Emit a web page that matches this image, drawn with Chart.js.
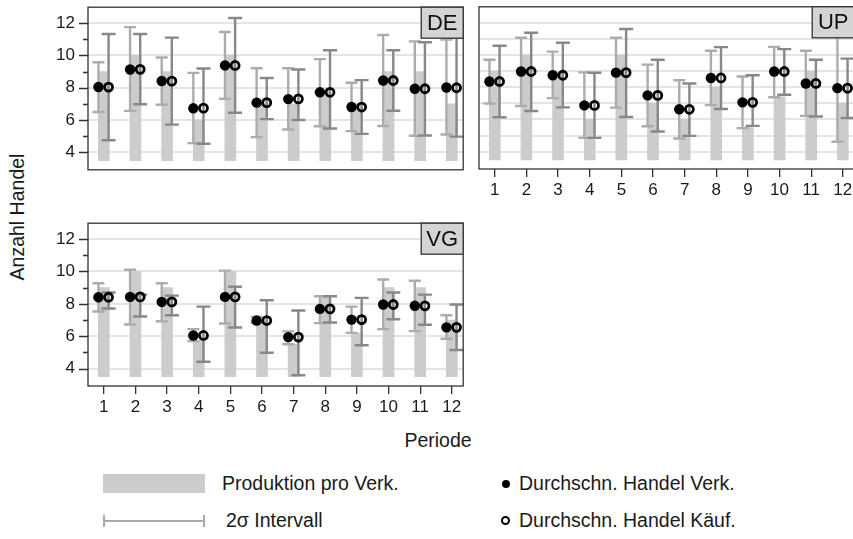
<!DOCTYPE html>
<html>
<head>
<meta charset="utf-8">
<script src="https://cdn.jsdelivr.net/npm/chart.js@4.4.1/dist/chart.umd.min.js"></script>
<style>
  body { margin: 0; width: 853px; height: 539px; overflow: hidden; background: #fff;
         font-family: "Liberation Sans", Arial, sans-serif; color: #1a1a1a; position: relative; }
  canvas { position: absolute; }
  .txt { position: absolute; white-space: nowrap; font-size: 19.5px; line-height: 1; }
  .box { position: absolute; }
</style>
</head>
<body>
<canvas id="de" width="440" height="200"></canvas>
<canvas id="up" width="400" height="220"></canvas>
<canvas id="vg" width="440" height="220"></canvas>

<div class="txt" style="left:18px;top:217px;transform:translate(-50%,-50%) rotate(-90deg)">Anzahl Handel</div>
<div class="txt" style="left:438px;top:441px;transform:translate(-50%,-50%)">Periode</div>

<!-- legend -->
<div class="box" style="left:103px;top:474px;width:102px;height:19px;background:#cccccc"></div>
<div class="txt" style="left:222px;top:484px;transform:translateY(-50%)">Produktion pro Verk.</div>
<div class="box" style="left:103px;top:520px;width:102px;height:2px;background:#aaaaaa"></div>
<div class="box" style="left:103px;top:515px;width:2px;height:12px;background:#aaaaaa"></div>
<div class="box" style="left:203px;top:515px;width:2px;height:12px;background:#aaaaaa"></div>
<div class="txt" style="left:226px;top:521px;transform:translateY(-50%)">2σ Intervall</div>
<div class="box" style="left:502px;top:480px;width:8px;height:8px;border-radius:50%;background:#000"></div>
<div class="txt" style="left:519px;top:484px;transform:translateY(-50%)">Durchschn. Handel Verk.</div>
<div class="box" style="left:501px;top:516px;width:5px;height:5px;border-radius:50%;border:2.5px solid #000"></div>
<div class="txt" style="left:519px;top:521px;transform:translateY(-50%)">Durchschn. Handel Käuf.</div>

<script>
// periods and axis ticks
const periods = [1, 2, 3, 4, 5, 6, 7, 8, 9, 10, 11, 12];
const periodLabels = ['1', '2', '3', '4', '5', '6', '7', '8', '9', '10', '11', '12'];
const yTicks = [4, 5, 6, 7, 8, 9, 10, 11, 12];
const yLabels = ['4', '', '6', '', '8', '', '10', '', '12'];
const barBase = 3.5;

// DE
const deProd = [9, 10, 9, 6, 10, 7, 7, 8, 7, 9, 9, 7];
const deSellMean = [8.05, 9.13, 8.42, 6.73, 9.38, 7.08, 7.3, 7.72, 6.81, 8.45, 7.94, 8.02];
const deBuyMean = [8.04, 9.14, 8.41, 6.74, 9.38, 7.08, 7.31, 7.72, 6.81, 8.45, 7.94, 8.0];
const deSellLo = [6.5, 6.57, 6.95, 4.58, 7.32, 4.95, 5.42, 5.62, 5.32, 5.64, 5.03, 5.11];
const deSellHi = [9.58, 11.75, 9.87, 8.92, 11.45, 9.21, 9.21, 9.77, 8.31, 11.26, 10.87, 10.98];
const deBuyLo = [4.76, 6.98, 5.72, 4.54, 6.46, 6.06, 6.01, 5.48, 5.15, 6.58, 5.05, 4.98];
const deBuyHi = [11.32, 11.32, 11.1, 9.19, 12.31, 8.6, 9.13, 10.32, 8.47, 10.32, 10.81, 11.1];

// UP
const upProd = [9, 10, 9, 6, 10, 7, 6, 8, 5.5, 7.4, 9, 7];
const upSellMean = [8.35, 8.97, 8.74, 6.87, 8.9, 7.49, 6.63, 8.57, 7.06, 8.97, 8.23, 7.94];
const upBuyMean = [8.35, 8.97, 8.74, 6.87, 8.9, 7.49, 6.63, 8.57, 7.06, 8.97, 8.23, 7.94];
const upSellLo = [6.98, 6.83, 7.32, 4.86, 6.73, 5.58, 4.82, 6.89, 5.46, 7.38, 6.22, 4.62];
const upSellHi = [9.7, 11.06, 10.2, 8.92, 11.06, 9.4, 8.43, 10.26, 8.66, 10.5, 10.26, 11.26];
const upBuyLo = [6.14, 6.52, 6.75, 4.86, 6.15, 5.25, 4.98, 6.65, 5.6, 7.53, 6.18, 6.09];
const upBuyHi = [10.57, 11.37, 10.75, 8.89, 11.6, 9.7, 8.23, 10.48, 8.74, 10.36, 9.7, 9.77];

// VG
const vgProd = [9, 10, 9, 5.75, 10, 7, 5.5, 8.5, 6.2, 9, 9, 7];
const vgSellMean = [8.41, 8.43, 8.12, 6.05, 8.43, 6.97, 5.95, 7.69, 7.03, 7.96, 7.88, 6.55];
const vgBuyMean = [8.41, 8.43, 8.12, 6.05, 8.43, 6.97, 5.95, 7.69, 7.03, 7.96, 7.88, 6.55];
const vgSellLo = [7.53, 6.73, 6.93, 5.7, 6.79, 6.83, 5.51, 6.81, 6.21, 6.44, 6.32, 5.85];
const vgSellHi = [9.27, 10.11, 9.27, 6.44, 10.05, 7.2, 6.3, 8.47, 7.83, 9.5, 9.43, 7.3];
const vgBuyLo = [7.71, 7.22, 7.3, 4.43, 6.54, 4.98, 3.59, 6.85, 5.45, 7.05, 6.71, 5.15];
const vgBuyHi = [8.7, 8.57, 8.51, 7.83, 9.06, 8.22, 7.59, 8.47, 8.37, 8.7, 8.57, 7.96];

const FONT = '"Liberation Sans", Arial, sans-serif';
const SELL_OFF = -0.17;
const BUY_OFF = 0.15;

// error bars, drawn right after the production bars
const errorBars = {
    id: 'errorBars',
    afterDatasetDraw(chart, args, opts) {
        if (args.meta.type !== 'bar') return;
        const { ctx, scales: { x, y } } = chart;
        ctx.save();
        opts.series.forEach(s => {
            ctx.strokeStyle = s.color;
            ctx.lineWidth = 2.4;
            periods.forEach((p, i) => {
                const px = x.getPixelForValue(p + s.offset);
                const lo = y.getPixelForValue(s.lo[i]);
                const hi = y.getPixelForValue(s.hi[i]);
                ctx.beginPath();
                ctx.moveTo(px, lo); ctx.lineTo(px, hi);
                ctx.moveTo(px - s.cap, lo); ctx.lineTo(px + s.cap, lo);
                ctx.moveTo(px - s.cap, hi); ctx.lineTo(px + s.cap, hi);
                ctx.stroke();
            });
        });
        ctx.restore();
    }
};

// panel frame, y tick marks and the name box in the corner
const panelFrame = {
    id: 'panelFrame',
    afterDraw(chart, args, opts) {
        const { ctx, chartArea: a, scales: { y } } = chart;
        ctx.save();
        ctx.strokeStyle = '#333';
        ctx.lineWidth = 1.3;
        ctx.strokeRect(a.left, a.top, a.right - a.left, a.bottom - a.top);
        if (opts.yTicks) {
            ctx.beginPath();
            yTicks.forEach(v => {
                const py = Math.round(y.getPixelForValue(v)) + 0.5;
                const len = v % 2 === 0 ? 9 : 5;
                ctx.moveTo(a.left - len, py); ctx.lineTo(a.left, py);
            });
            ctx.stroke();
        }
        const w = 42, h = 31;
        ctx.fillStyle = '#d4d4d4';
        ctx.fillRect(a.right - w, a.top, w, h);
        ctx.strokeRect(a.right - w, a.top, w, h);
        ctx.fillStyle = '#111';
        ctx.font = '22px ' + FONT;
        ctx.textAlign = 'center';
        ctx.textBaseline = 'middle';
        ctx.fillText(opts.name, a.right - w / 2, a.top + h / 2 + 1);
        ctx.restore();
    }
};

function panelConfig(name, prod, sellMean, buyMean, sellLo, sellHi, buyLo, buyHi, showX, showY) {
    return {
        type: 'bar',
        data: {
            datasets: [
                {
                    type: 'bar',
                    data: periods.map((p, i) => ({ x: p, y: [barBase, prod[i]] })),
                    backgroundColor: '#cccccc',
                    borderWidth: 0,
                    barThickness: 11,
                    order: 3
                },
                {
                    type: 'line',
                    data: periods.map((p, i) => ({ x: p + SELL_OFF, y: sellMean[i] })),
                    showLine: false,
                    pointRadius: 5.2,
                    pointBorderWidth: 0,
                    pointBackgroundColor: '#000',
                    order: 2
                },
                {
                    type: 'line',
                    data: periods.map((p, i) => ({ x: p + BUY_OFF, y: buyMean[i] })),
                    showLine: false,
                    pointRadius: 4,
                    pointBorderWidth: 2.8,
                    pointBorderColor: '#000',
                    pointBackgroundColor: 'rgba(0,0,0,0)',
                    order: 1
                }
            ]
        },
        options: {
            responsive: false,
            maintainAspectRatio: false,
            animation: false,
            layout: { padding: 0 },
            scales: {
                x: {
                    type: 'linear',
                    offset: false,
                    min: 0.5,
                    max: 12.36,
                    display: showX,
                    afterBuildTicks: s => { s.ticks = periods.map(v => ({ value: v })); },
                    afterFit: s => { if (showX) s.height = 40; },
                    ticks: {
                        font: { size: 17, family: FONT },
                        color: '#1a1a1a',
                        padding: 3,
                        maxRotation: 0,
                        autoSkip: false,
                        callback: v => periodLabels[periods.indexOf(v)]
                    },
                    grid: { offset: false, drawOnChartArea: false, tickLength: 8, color: '#333', lineWidth: 1.3 },
                    border: { display: false }
                },
                y: {
                    type: 'linear',
                    min: 2.93,
                    max: 12.98,
                    afterBuildTicks: s => { s.ticks = yTicks.map(v => ({ value: v })); },
                    afterFit: s => { s.width = showY ? 58 : 9; },
                    ticks: {
                        display: showY,
                        font: { size: 17, family: FONT },
                        color: '#1a1a1a',
                        padding: 13,
                        callback: v => yLabels[yTicks.indexOf(v)]
                    },
                    grid: { color: '#e4e4e4', lineWidth: 2, drawTicks: false },
                    border: { display: false }
                }
            },
            plugins: {
                legend: { display: false },
                tooltip: { enabled: false },
                errorBars: {
                    series: [
                        { offset: SELL_OFF, lo: sellLo, hi: sellHi, color: '#acacac', cap: 6 },
                        { offset: BUY_OFF, lo: buyLo, hi: buyHi, color: '#888888', cap: 7 }
                    ]
                },
                panelFrame: { name: name, yTicks: showY }
            }
        },
        plugins: [errorBars, panelFrame]
    };
}

// build a panel, then size and shift its canvas so the plot area sits at (left, top) with size (w, h)
function placePanel(id, area, cfg) {
    const canvas = document.getElementById(id);
    let chart = new Chart(canvas, cfg());
    let a = chart.chartArea;
    const cw = canvas.width + (area.w - (a.right - a.left));
    const ch = canvas.height + (area.h - (a.bottom - a.top));
    chart.destroy();
    canvas.width = cw;
    canvas.height = ch;
    chart = new Chart(canvas, cfg());
    a = chart.chartArea;
    canvas.style.left = (area.left - a.left) + 'px';
    canvas.style.top = (area.top - a.top) + 'px';
    return chart;
}

placePanel('de', { left: 88, top: 7, w: 376, h: 163 },
    () => panelConfig('DE', deProd, deSellMean, deBuyMean, deSellLo, deSellHi, deBuyLo, deBuyHi, false, true));
placePanel('up', { left: 479, top: 7, w: 376, h: 163 },
    () => panelConfig('UP', upProd, upSellMean, upBuyMean, upSellLo, upSellHi, upBuyLo, upBuyHi, true, false));
placePanel('vg', { left: 88, top: 223.5, w: 376, h: 163.5 },
    () => panelConfig('VG', vgProd, vgSellMean, vgBuyMean, vgSellLo, vgSellHi, vgBuyLo, vgBuyHi, true, true));
</script>
</body>
</html>
